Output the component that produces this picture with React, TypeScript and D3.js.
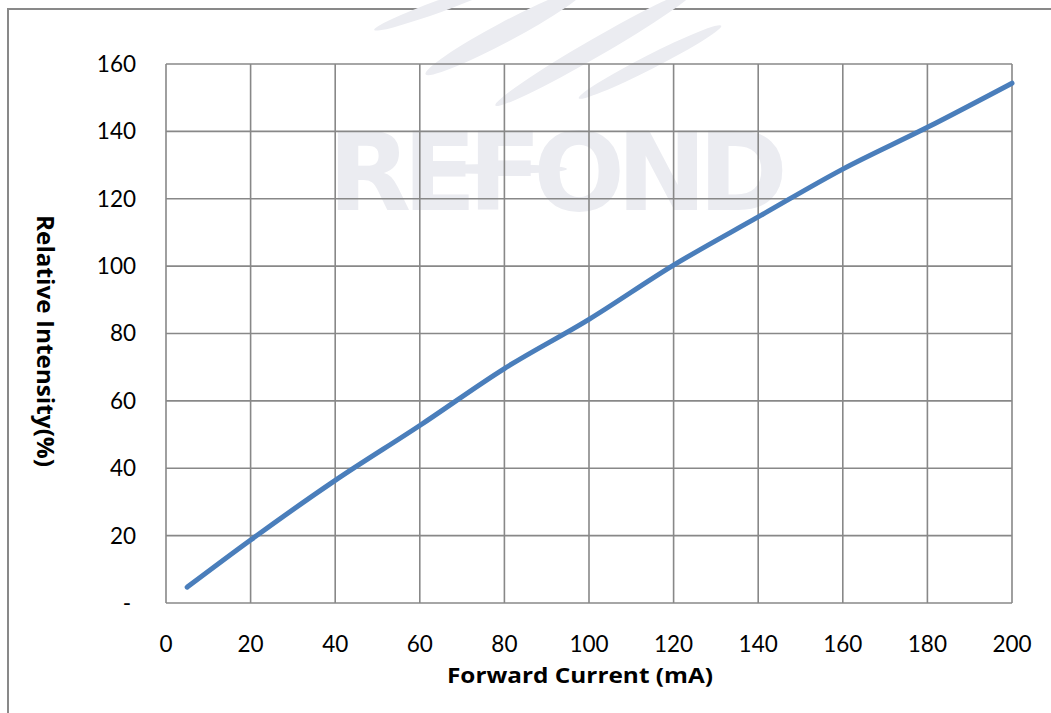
import React, { useEffect, useRef } from "react";
import * as d3 from "d3";

// forward current (mA) vs relative intensity (%)
const currents = [5, 20, 40, 60, 80, 100, 120, 140, 160, 180, 200];
const intensity = [4.7, 18.7, 36.4, 52.7, 69.6, 84.2, 100.3, 114.6, 128.8, 141.2, 154.3];
const xTicks = [0, 20, 40, 60, 80, 100, 120, 140, 160, 180, 200];
const yTicks = [0, 20, 40, 60, 80, 100, 120, 140, 160];

export default function App() {
  const ref = useRef<SVGSVGElement | null>(null);

  useEffect(() => {
    const width = 1051;
    const height = 713;
    const margin = { top: 64, right: 39, bottom: 110, left: 166 };
    const svg = d3.select(ref.current);
    svg.selectAll("*").remove();
    svg.attr("width", width).attr("height", height);

    const font = "Lato, 'Open Sans', sans-serif";
    const titleFont = "'Open Sans', Lato, sans-serif";

    svg.append("rect").attr("width", width).attr("height", height).attr("fill", "#fff");

    // 外框
    svg
      .append("rect")
      .attr("x", 8)
      .attr("y", 9)
      .attr("width", width + 20)
      .attr("height", height + 20)
      .attr("fill", "none")
      .attr("stroke", "#898989")
      .attr("stroke-width", 2);

    // 水印
    const wm = svg.append("g").attr("fill", "#ebecf1");
    const streaks = [
      { cx: 440, cy: 6, rx: 70, ry: 6, a: -20 },
      { cx: 505, cy: 32, rx: 90, ry: 10, a: -28 },
      { cx: 595, cy: 48, rx: 115, ry: 9, a: -30 },
      { cx: 650, cy: 62, rx: 80, ry: 7, a: -27 },
      { cx: 492, cy: 169, rx: 75, ry: 5, a: 0 },
    ];
    streaks.forEach((s) => {
      wm.append("ellipse")
        .attr("cx", s.cx)
        .attr("cy", s.cy)
        .attr("rx", s.rx)
        .attr("ry", s.ry)
        .attr("transform", `rotate(${s.a},${s.cx},${s.cy})`);
    });
    wm.append("text")
      .attr("x", 558)
      .attr("y", 210)
      .attr("text-anchor", "middle")
      .attr("font-family", "'DejaVu Sans', sans-serif")
      .attr("font-weight", 700)
      .attr("font-size", 108)
      .attr("textLength", 460)
      .text("REFOND");

    const w = width - margin.left - margin.right;
    const h = height - margin.top - margin.bottom;
    const g = svg.append("g").attr("transform", `translate(${margin.left},${margin.top})`);

    const x = d3.scaleLinear().domain([0, 200]).range([0, w]);
    const y = d3.scaleLinear().domain([0, 160]).range([h, 0]);

    // 网格
    g.append("g")
      .selectAll("line")
      .data(xTicks)
      .enter()
      .append("line")
      .attr("x1", (d) => x(d))
      .attr("x2", (d) => x(d))
      .attr("y1", 0)
      .attr("y2", h)
      .attr("stroke", "#888")
      .attr("stroke-width", 1.6);
    g.append("g")
      .selectAll("line")
      .data(yTicks)
      .enter()
      .append("line")
      .attr("x1", 0)
      .attr("x2", w)
      .attr("y1", (d) => y(d))
      .attr("y2", (d) => y(d))
      .attr("stroke", "#888")
      .attr("stroke-width", 1.6);

    // 刻度
    g.append("g")
      .selectAll("text")
      .data(xTicks)
      .enter()
      .append("text")
      .attr("x", (d) => x(d))
      .attr("y", h + 49)
      .attr("text-anchor", "middle")
      .attr("font-family", font)
      .attr("font-size", 22.5)
      .attr("fill", "#000")
      .text((d) => d);
    g.append("g")
      .selectAll("text")
      .data(yTicks)
      .enter()
      .append("text")
      .attr("x", (d) => (d === 0 ? -35 : -30))
      .attr("y", (d) => y(d))
      .attr("dy", "0.35em")
      .attr("text-anchor", "end")
      .attr("font-family", font)
      .attr("font-size", 22.5)
      .attr("fill", "#000")
      .text((d) => (d === 0 ? "-" : d));

    // 折线
    const line = d3
      .line<number>()
      .x((d, i) => x(currents[i]))
      .y((d) => y(d))
      .curve(d3.curveMonotoneX);
    g.append("path")
      .attr("d", line(intensity))
      .attr("fill", "none")
      .attr("stroke", "#4a7ebb")
      .attr("stroke-width", 5)
      .attr("stroke-linecap", "round")
      .attr("stroke-linejoin", "round");

    // 轴标题
    svg
      .append("text")
      .attr("x", 580)
      .attr("y", 683)
      .attr("text-anchor", "middle")
      .attr("font-family", titleFont)
      .attr("font-weight", 700)
      .attr("font-size", 22)
      .attr("textLength", 266)
      .attr("lengthAdjust", "spacingAndGlyphs")
      .attr("fill", "#000")
      .text("Forward Current (mA)");
    svg
      .append("text")
      .attr("transform", "translate(37,341) rotate(90)")
      .attr("text-anchor", "middle")
      .attr("font-family", titleFont)
      .attr("font-weight", 700)
      .attr("font-size", 23)
      .attr("textLength", 252)
      .attr("lengthAdjust", "spacingAndGlyphs")
      .attr("fill", "#000")
      .text("Relative Intensity(%)");
  }, []);

  return (
    <div style={{ position: "absolute", left: 0, top: 0 }}>
      <svg ref={ref} style={{ display: "block" }} />
    </div>
  );
}
